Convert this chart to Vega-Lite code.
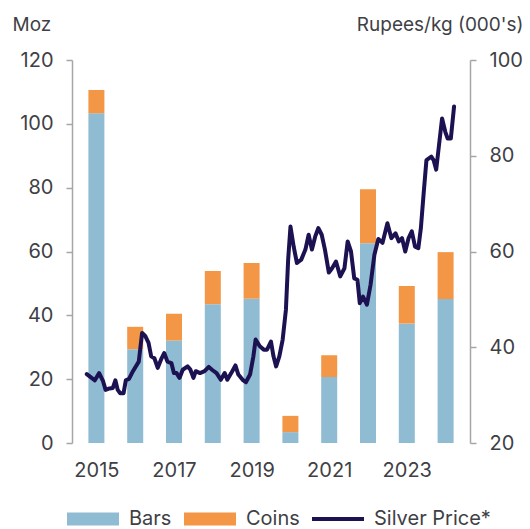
{
  "$schema": "https://vega.github.io/schema/vega-lite/v6.json",
  "width": 398,
  "height": 383,
  "autosize": {"type": "none"},
  "padding": {"left": 72, "top": 60, "right": 60, "bottom": 86},
  "background": "white",
  "config": {
    "view": {"stroke": null},
    "font": "Inter",
    "axis": {"labelFont": "Inter", "titleFont": "Inter", "labelColor": "#3f3f46", "titleColor": "#3f3f46", "labelFontSize": 20, "titleFontSize": 19, "titleFontWeight": "normal", "grid": false}
  },
  "datasets": {
    "sales": [
      {"year": 2015, "type": "Bars", "moz": 103.3}, {"year": 2015, "type": "Coins", "moz": 7.3},
      {"year": 2016, "type": "Bars", "moz": 29.4}, {"year": 2016, "type": "Coins", "moz": 7.0},
      {"year": 2017, "type": "Bars", "moz": 32.1}, {"year": 2017, "type": "Coins", "moz": 8.4},
      {"year": 2018, "type": "Bars", "moz": 43.5}, {"year": 2018, "type": "Coins", "moz": 10.4},
      {"year": 2019, "type": "Bars", "moz": 45.2}, {"year": 2019, "type": "Coins", "moz": 11.2},
      {"year": 2020, "type": "Bars", "moz": 3.4}, {"year": 2020, "type": "Coins", "moz": 5.1},
      {"year": 2021, "type": "Bars", "moz": 20.7}, {"year": 2021, "type": "Coins", "moz": 6.8},
      {"year": 2022, "type": "Bars", "moz": 62.6}, {"year": 2022, "type": "Coins", "moz": 16.9},
      {"year": 2023, "type": "Bars", "moz": 37.4}, {"year": 2023, "type": "Coins", "moz": 11.8},
      {"year": 2024, "type": "Bars", "moz": 45.1}, {"year": 2024, "type": "Coins", "moz": 14.7}
    ],
    "price": [
      {"t": 2014.752, "p": 34.4}, {"t": 2014.877, "p": 33.6}, {"t": 2014.960, "p": 33.1}, {"t": 2015.071, "p": 34.6},
      {"t": 2015.172, "p": 32.9}, {"t": 2015.237, "p": 31.1}, {"t": 2015.338, "p": 31.4}, {"t": 2015.423, "p": 31.5},
      {"t": 2015.489, "p": 33.1}, {"t": 2015.549, "p": 31.1}, {"t": 2015.614, "p": 30.4}, {"t": 2015.700, "p": 30.4},
      {"t": 2015.758, "p": 33.1}, {"t": 2015.841, "p": 33.4}, {"t": 2015.942, "p": 35.0}, {"t": 2016.092, "p": 37.0},
      {"t": 2016.178, "p": 43.0}, {"t": 2016.261, "p": 42.3}, {"t": 2016.344, "p": 40.9}, {"t": 2016.412, "p": 38.1},
      {"t": 2016.495, "p": 37.7}, {"t": 2016.581, "p": 35.7}, {"t": 2016.664, "p": 37.4}, {"t": 2016.747, "p": 38.8},
      {"t": 2016.832, "p": 37.0}, {"t": 2016.933, "p": 36.7}, {"t": 2016.998, "p": 34.6}, {"t": 2017.066, "p": 34.6},
      {"t": 2017.142, "p": 33.6}, {"t": 2017.225, "p": 35.3}, {"t": 2017.350, "p": 36.0}, {"t": 2017.418, "p": 35.4},
      {"t": 2017.501, "p": 33.6}, {"t": 2017.562, "p": 35.0}, {"t": 2017.670, "p": 34.6}, {"t": 2017.788, "p": 35.0},
      {"t": 2017.896, "p": 35.9}, {"t": 2017.979, "p": 35.3}, {"t": 2018.097, "p": 34.6}, {"t": 2018.206, "p": 33.2},
      {"t": 2018.306, "p": 34.6}, {"t": 2018.374, "p": 33.2}, {"t": 2018.475, "p": 34.6}, {"t": 2018.583, "p": 36.2},
      {"t": 2018.658, "p": 34.3}, {"t": 2018.769, "p": 33.2}, {"t": 2018.852, "p": 32.7}, {"t": 2018.960, "p": 34.3},
      {"t": 2019.046, "p": 38.1}, {"t": 2019.104, "p": 41.6}, {"t": 2019.212, "p": 40.2}, {"t": 2019.313, "p": 39.5},
      {"t": 2019.398, "p": 39.5}, {"t": 2019.499, "p": 41.2}, {"t": 2019.564, "p": 38.1}, {"t": 2019.632, "p": 36.0},
      {"t": 2019.715, "p": 38.1}, {"t": 2019.801, "p": 41.6}, {"t": 2019.884, "p": 47.8}, {"t": 2019.942, "p": 58.3},
      {"t": 2020.002, "p": 65.2}, {"t": 2020.085, "p": 61.0}, {"t": 2020.168, "p": 57.6}, {"t": 2020.279, "p": 58.3},
      {"t": 2020.387, "p": 60.4}, {"t": 2020.470, "p": 63.5}, {"t": 2020.555, "p": 60.4}, {"t": 2020.638, "p": 63.1},
      {"t": 2020.721, "p": 64.9}, {"t": 2020.807, "p": 63.5}, {"t": 2020.890, "p": 60.4}, {"t": 2020.991, "p": 55.6},
      {"t": 2021.074, "p": 56.5}, {"t": 2021.175, "p": 57.9}, {"t": 2021.285, "p": 54.8}, {"t": 2021.393, "p": 56.5},
      {"t": 2021.476, "p": 62.1}, {"t": 2021.562, "p": 60.0}, {"t": 2021.645, "p": 54.4}, {"t": 2021.728, "p": 54.1},
      {"t": 2021.788, "p": 49.2}, {"t": 2021.871, "p": 50.6}, {"t": 2021.972, "p": 48.9}, {"t": 2022.065, "p": 53.0},
      {"t": 2022.165, "p": 59.3}, {"t": 2022.266, "p": 62.6}, {"t": 2022.374, "p": 61.8}, {"t": 2022.500, "p": 65.9},
      {"t": 2022.601, "p": 62.8}, {"t": 2022.709, "p": 63.8}, {"t": 2022.794, "p": 62.1}, {"t": 2022.877, "p": 62.8},
      {"t": 2022.960, "p": 60.0}, {"t": 2023.046, "p": 62.8}, {"t": 2023.129, "p": 64.2}, {"t": 2023.212, "p": 61.0},
      {"t": 2023.297, "p": 60.7}, {"t": 2023.363, "p": 64.9}, {"t": 2023.438, "p": 72.5}, {"t": 2023.506, "p": 79.1},
      {"t": 2023.632, "p": 79.8}, {"t": 2023.690, "p": 79.1}, {"t": 2023.758, "p": 77.1}, {"t": 2023.841, "p": 83.0},
      {"t": 2023.909, "p": 87.8}, {"t": 2023.992, "p": 85.0}, {"t": 2024.053, "p": 83.6}, {"t": 2024.135, "p": 83.6},
      {"t": 2024.218, "p": 90.3}
    ]
  },
  "layer": [
    {
      "data": {"name": "sales"},
      "mark": {"type": "bar", "size": 16},
      "encoding": {
        "x": {"field": "year", "type": "quantitative", "scale": {"domain": [2014.5, 2024.5], "nice": false, "zero": false},
              "axis": {"values": [2015, 2017, 2019, 2021, 2023], "format": "d", "domain": false, "ticks": false, "labelPadding": 17, "title": null, "labelFlush": false, "labelFontSize": 20}},
        "y": {"field": "moz", "type": "quantitative", "stack": "zero", "scale": {"domain": [0, 120], "nice": false},
              "axis": {"values": [0, 20, 40, 60, 80, 100, 120], "domainColor": "#a6a6a6", "domainWidth": 1.5, "tickColor": "#a6a6a6", "tickWidth": 1.5, "tickSize": 6, "labelPadding": 13, "labelFontSize": 20,
                       "title": "Moz", "titleFontSize": 19, "titleAngle": 0, "titleAlign": "left", "titleBaseline": "alphabetic", "titleX": -60, "titleY": -30}},
        "color": {"field": "type", "type": "nominal",
                  "scale": {"domain": ["Bars", "Coins", "Silver Price*"], "range": ["#8fbbd3", "#f39646", "#1c1252"]},
                  "legend": {"title": null, "orient": "none", "direction": "horizontal", "legendX": -5, "legendY": 433,
                             "labelFont": "Inter", "labelFontSize": 20, "labelColor": "#3f3f46", "labelOffset": 10, "columnPadding": 12,
                             "symbolType": "M-1,-0.25H1V0.25H-1Z", "symbolSize": 2704, "symbolStrokeWidth": 0,
                             "encode": {"symbols": {"update": {"shape": {"signal": "datum.value === 'Silver Price*' ? 'M-1,-0.08H1V0.08H-1Z' : 'M-1,-0.25H1V0.25H-1Z'"}, "strokeWidth": {"value": 0}, "fill": {"signal": "scale('color', datum.value)"}, "opacity": {"value": 1}}}}}},
        "order": {"field": "type", "sort": "ascending"}
      }
    },
    {
      "data": {"name": "price"},
      "mark": {"type": "line", "strokeWidth": 4, "strokeJoin": "round", "strokeCap": "round"},
      "encoding": {
        "x": {"field": "t", "type": "quantitative"},
        "y": {"field": "p", "type": "quantitative", "scale": {"domain": [20, 100], "nice": false, "zero": false},
              "axis": {"orient": "right", "values": [20, 40, 60, 80, 100], "domainColor": "#a6a6a6", "domainWidth": 1.5, "tickColor": "#a6a6a6", "tickWidth": 1.5, "tickSize": 6, "labelPadding": 13, "labelFontSize": 20,
                       "title": "Rupees/kg (000's)", "titleFontSize": 19, "titleAngle": 0, "titleAlign": "right", "titleBaseline": "alphabetic", "titleX": 53, "titleY": -30}},
        "color": {"datum": "Silver Price*", "type": "nominal"}
      }
    }
  ],
  "resolve": {"scale": {"y": "independent"}}
}
